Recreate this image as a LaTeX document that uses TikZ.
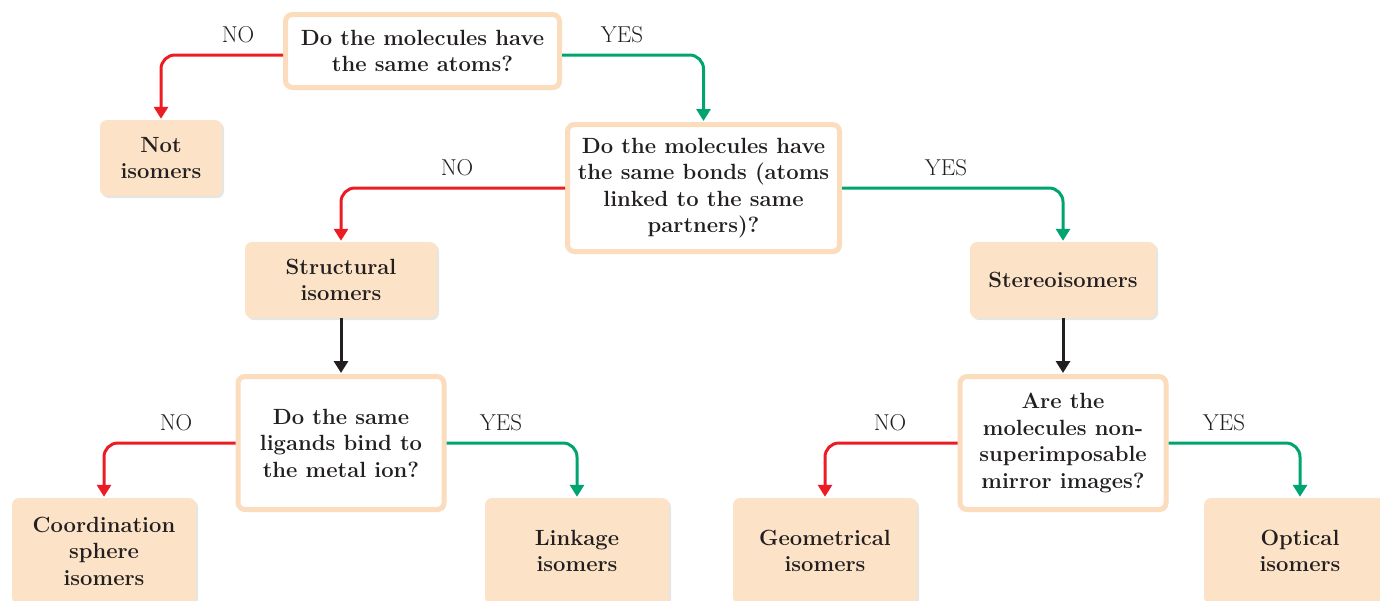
\documentclass[tikz,border=0pt]{standalone}
\usepackage{fontspec}
\setmainfont{Latin Modern Roman}
\usetikzlibrary{arrows.meta,shadows}
\definecolor{peach}{HTML}{FCE3C7}
\definecolor{peachline}{HTML}{FBDDBD}
\definecolor{nored}{HTML}{EC1C24}
\definecolor{yesgreen}{HTML}{00A470}
\definecolor{txt}{HTML}{231F20}
\begin{document}
\begin{tikzpicture}[x=1pt,y=-1pt,
  every node/.style={text=txt},
  qbox/.style={draw=peachline, line width=5pt, fill=white, rounded corners=7pt,
    align=center, inner sep=0pt, font=\fontsize{22}{26.5}\selectfont\bfseries,
    drop shadow={opacity=0.25, shadow xshift=2pt, shadow yshift=-2pt}},
  rbox/.style={fill=peach, rounded corners=7pt,
    align=center, inner sep=0pt, font=\fontsize{22}{26.5}\selectfont\bfseries,
    drop shadow={opacity=0.2, shadow xshift=2pt, shadow yshift=-2pt}},
  lbl/.style={font=\fontsize{23}{26}\selectfont, inner sep=0pt},
  conn/.style={line width=3pt, rounded corners=14pt, shorten >=1pt,
    -{Triangle[width=14pt,length=12pt]}},
  nocon/.style={conn, draw=nored},
  yescon/.style={conn, draw=yesgreen},
  blkcon/.style={conn, draw=txt}
]
\useasboundingbox (0,0) rectangle (1380,600);

% question boxes
\node[qbox, minimum width=274pt, minimum height=73pt] (q1) at (422.5,51)
  {Do the molecules have\\the same atoms?};
\node[qbox, minimum width=272pt, minimum height=127pt] (q2) at (703.5,188)
  {Do the molecules have\\the same bonds (atoms\\linked to the same\\partners)?};
\node[qbox, minimum width=206pt, minimum height=133pt] (q3) at (341,443)
  {Do the same\\ligands bind to\\the metal ion?};
\node[qbox, minimum width=206pt, minimum height=133pt] (q4) at (1063,443)
  {Are the\\molecules non-\\superimposable\\mirror images?};

% result boxes
\node[rbox, minimum width=122pt, minimum height=76pt] (notiso) at (161,158)
  {Not\\isomers};
\node[rbox, minimum width=192pt, minimum height=76pt] (struct) at (341,280)
  {Structural\\isomers};
\node[rbox, minimum width=186pt, minimum height=76pt] (stereo) at (1063,280)
  {Stereoisomers};
\node[rbox, minimum width=184pt, minimum height=106pt] (coord) at (104,551)
  {Coordination\\sphere\\isomers};
\node[rbox, minimum width=184pt, minimum height=106pt] (link) at (577,551)
  {Linkage\\isomers};
\node[rbox, minimum width=184pt, minimum height=106pt] (geom) at (825,551)
  {Geometrical\\isomers};
\node[rbox, minimum width=192pt, minimum height=106pt] (opt) at (1300,551)
  {Optical\\isomers};

% connectors
\draw[nocon] (q1.west |- 0,55) -| (notiso.north);
\draw[yescon] (q1.east |- 0,55) -| (q2.north);
\draw[nocon] (q2.west) -| (struct.north);
\draw[yescon] (q2.east) -| (stereo.north);
\draw[blkcon] (struct.south) -- (q3.north);
\draw[blkcon] (stereo.south) -- (q4.north);
\draw[nocon] (q3.west) -| (coord.north);
\draw[yescon] (q3.east) -| (link.north);
\draw[nocon] (q4.west) -| (geom.north);
\draw[yescon] (q4.east) -| (opt.north);

% labels
\node[lbl] (l1) at (238,35) {NO};
\node[lbl] (l2) at (622,35) {YES};
\node[lbl] (l3) at (457,168) {NO};
\node[lbl] (l4) at (946,168) {YES};
\node[lbl] (l5) at (176,423) {NO};
\node[lbl] (l6) at (501,423) {YES};
\node[lbl] (l7) at (890,423) {NO};
\node[lbl] (l8) at (1224,423) {YES};
\end{tikzpicture}
\end{document}
